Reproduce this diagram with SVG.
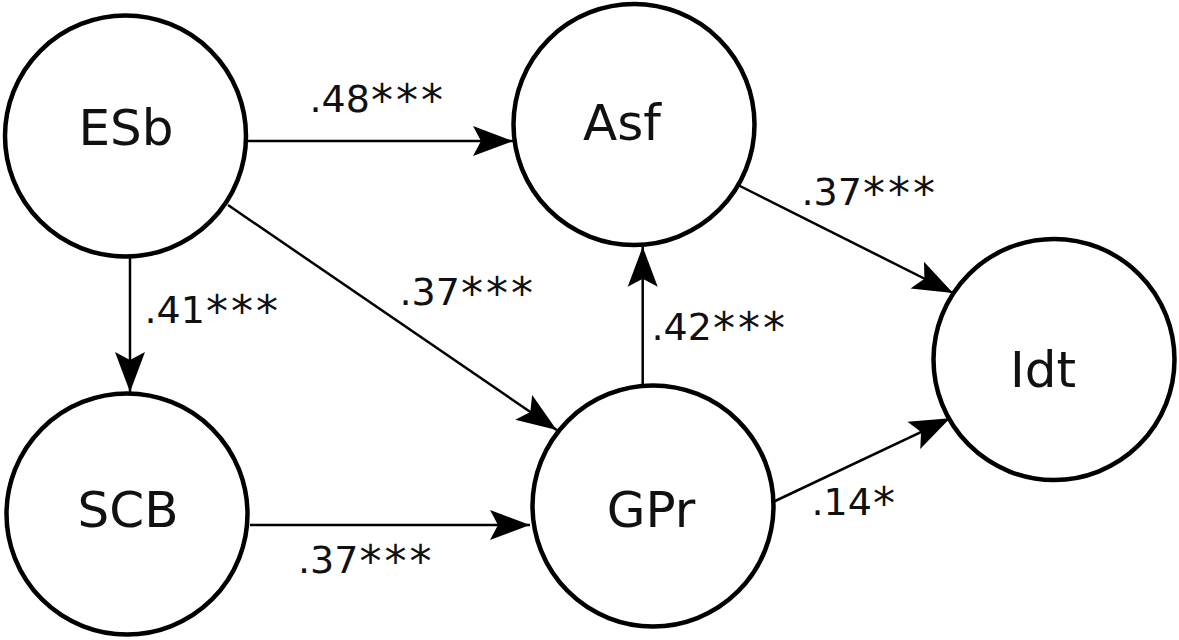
<svg xmlns="http://www.w3.org/2000/svg" width="1179" height="640" viewBox="0 0 1179 640">
<style>
.node circle{fill:#fff;stroke:#000;stroke-width:4.5}
.node text{font-family:"DejaVu Sans",Verdana,sans-serif;font-size:50px;fill:#111;text-anchor:middle}
.edges line{stroke:#000;stroke-width:2.5;fill:none;marker-end:url(#arr)}
.lbl{font-family:"DejaVu Sans",Verdana,sans-serif;font-size:38px;fill:#111}
.st{font-size:44px;letter-spacing:3px}
</style>
<defs>
<marker id="arr" markerUnits="userSpaceOnUse" markerWidth="50" markerHeight="40" viewBox="-42 -20 46 40" refX="0" refY="0" orient="auto">
<path d="M0,0 L-40,-15 L-32,0 L-40,15 Z" fill="#000"/>
</marker>
</defs>
<rect width="1179" height="640" fill="#fff"/>
<g id="edges" class="edges">
<line x1="248" y1="141" x2="513" y2="141"/>
<line x1="130" y1="258" x2="130" y2="392"/>
<line x1="228" y1="205" x2="556.7" y2="430"/>
<line x1="642.7" y1="385" x2="642.7" y2="246.7"/>
<line x1="738" y1="185" x2="953" y2="293"/>
<line x1="250" y1="525" x2="530" y2="525"/>
<line x1="773" y1="502" x2="950" y2="418.3"/>
</g>
<g id="labels">
<text class="lbl" x="309.5" y="111.7">.48<tspan class="st" dx="1" dy="4">***</tspan></text>
<text class="lbl" x="144.5" y="322.7">.41<tspan class="st" dx="1" dy="4">***</tspan></text>
<text class="lbl" x="399.5" y="305">.37<tspan class="st" dx="1" dy="4">***</tspan></text>
<text class="lbl" x="651.5" y="340">.42<tspan class="st" dx="1" dy="4">***</tspan></text>
<text class="lbl" x="801.5" y="205">.37<tspan class="st" dx="1" dy="4">***</tspan></text>
<text class="lbl" x="298" y="573">.37<tspan class="st" dx="1" dy="4">***</tspan></text>
<text class="lbl" x="811.5" y="515">.14<tspan class="st" dx="1" dy="4">*</tspan></text>
</g>
<g id="ESb" class="node"><circle cx="125.5" cy="136" r="120.5"/><text x="126" y="145">ESb</text></g>
<g id="Asf" class="node"><circle cx="634" cy="124.5" r="120.5"/><text x="622" y="140">Asf</text></g>
<g id="SCB" class="node"><circle cx="127" cy="514" r="120.5"/><text x="128" y="527">SCB</text></g>
<g id="GPr" class="node"><circle cx="653" cy="506" r="120.5"/><text x="651" y="527">GPr</text></g>
<g id="Idt" class="node"><circle cx="1054" cy="359.5" r="120.5"/><text x="1043" y="387">Idt</text></g>
</svg>
